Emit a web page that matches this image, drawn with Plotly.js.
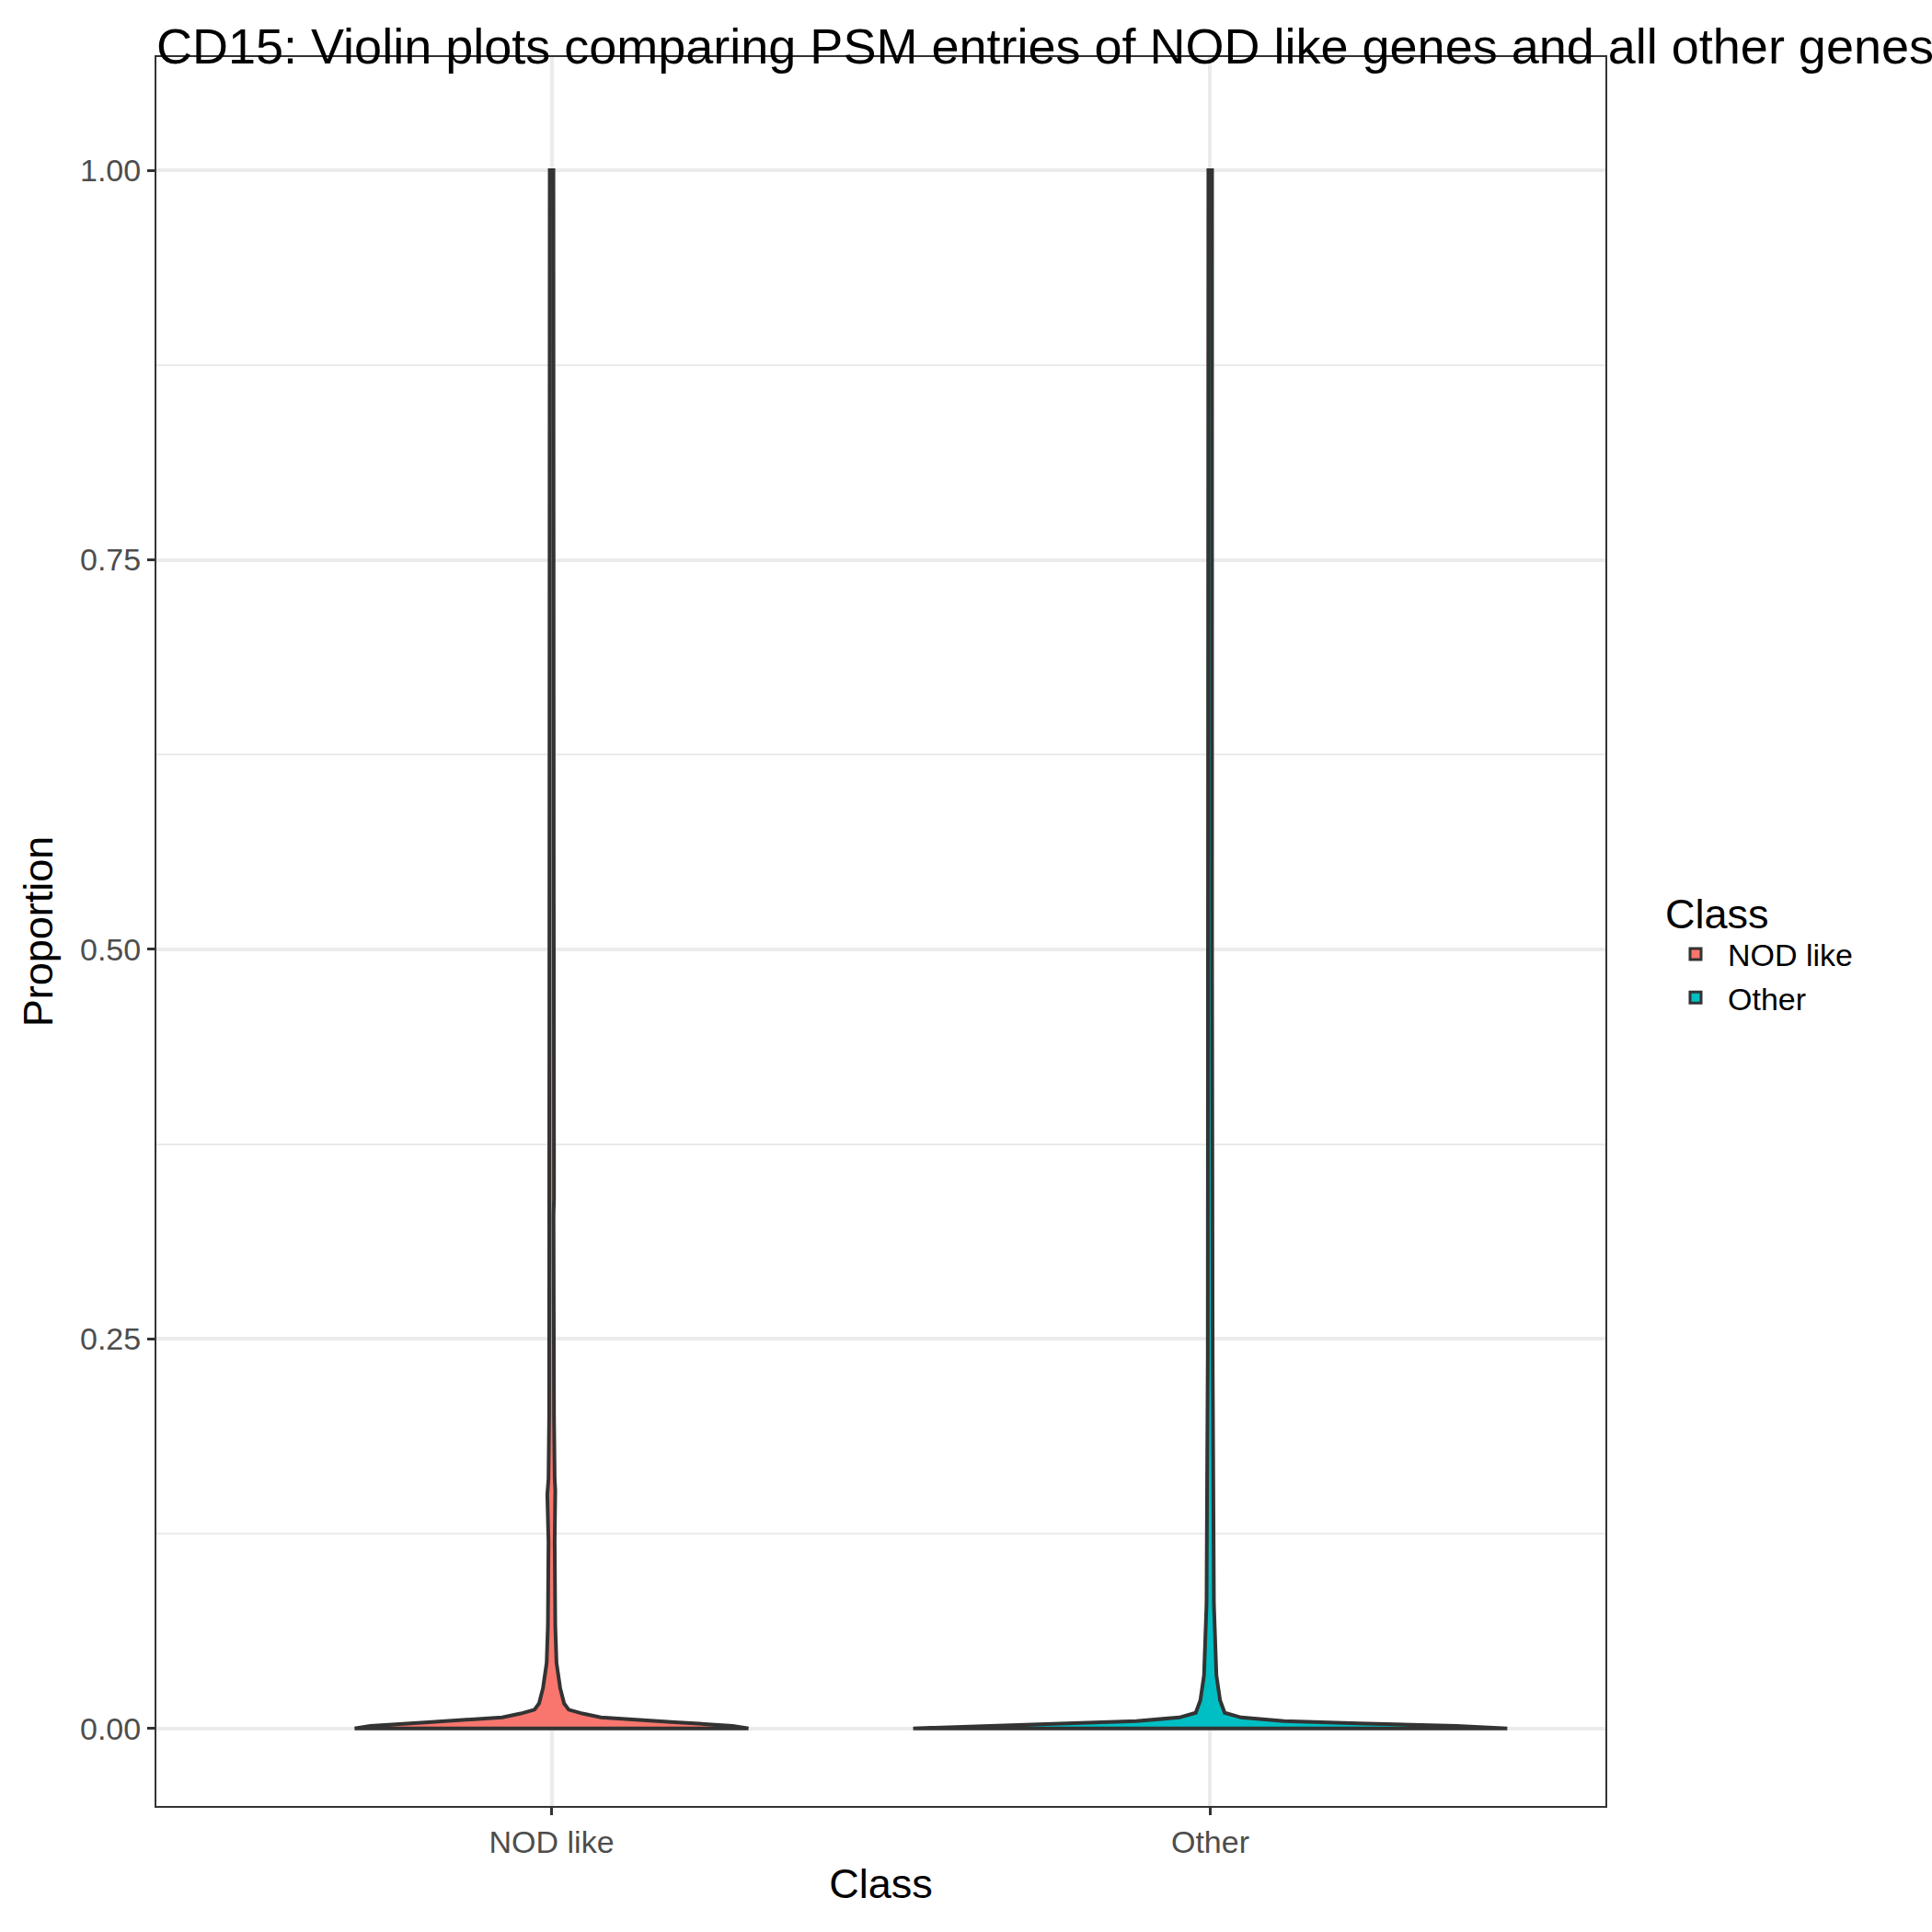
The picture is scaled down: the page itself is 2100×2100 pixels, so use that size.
<!DOCTYPE html>
<html><head><meta charset="utf-8">
<script src="https://cdn.plot.ly/plotly-3.0.1.min.js"></script>
<style>body{margin:0;background:#fff}</style></head>
<body><div id="plot" style="width:2100px;height:2100px"></div>
<script>
// categories and their positions on the discrete axis
const categories = ["NOD like", "Other"];
const fills = ["#F8766D", "#00BFC4"];

// density profile: y value and half-width (axis units)
const nodY = [0, 0.0016, 0.004, 0.007, 0.0095, 0.012, 0.016, 0.026, 0.042, 0.066, 0.12, 0.15, 0.153, 0.16, 0.2, 0.33, 0.34, 0.55, 0.67, 0.9, 1.0];
const nodW = [0.299, 0.275, 0.187, 0.075, 0.047, 0.026, 0.019, 0.013, 0.0075, 0.0056, 0.0047, 0.0065, 0.0056, 0.0047, 0.0037, 0.003, 0.0037, 0.0033, 0.003, 0.0028, 0.0028];
const otherY = [0, 0.0016, 0.0032, 0.0047, 0.007, 0.01, 0.018, 0.034, 0.08, 0.16, 0.24, 0.5, 1.0];
const otherW = [0.451, 0.374, 0.225, 0.112, 0.047, 0.022, 0.015, 0.0094, 0.0056, 0.0047, 0.0037, 0.0028, 0.0028];

function violin(center, ys, ws, name, color) {
  const x = [], y = [];
  for (let i = 0; i < ys.length; i++) { x.push(center + ws[i]); y.push(ys[i]); }
  for (let i = ys.length - 1; i >= 0; i--) { x.push(center - ws[i]); y.push(ys[i]); }
  x.push(x[0]); y.push(y[0]);
  return { x, y, name, type: "scatter", mode: "lines", fill: "toself", showlegend: false,
    fillcolor: color, line: { color: "#333333", width: 4 }, hoverinfo: "skip" };
}

// legend keys drawn as filled boxes
function key(name, color) {
  return { type: "bar", x: [null], y: [null], name,
    marker: { color, line: { color: "#333333", width: 3 } } };
}

const traces = [
  violin(1, nodY, nodW, categories[0], fills[0]),
  violin(2, otherY, otherW, categories[1], fills[1]),
  key(categories[0], fills[0]),
  key(categories[1], fills[1]),
];

const font = { family: "Liberation Sans, Arial, sans-serif", color: "#000" };
Plotly.newPlot("plot", traces, {
  width: 2100, height: 2100,
  margin: { l: 170, r: 355, t: 62, b: 137 },
  paper_bgcolor: "#fff", plot_bgcolor: "#fff",
  font: font,
  title: { text: "CD15: Violin plots comparing PSM entries of NOD like genes and all other genes",
    x: 0, xref: "paper", xanchor: "left", y: 0.976, yanchor: "middle",
    font: { size: 54, color: "#000" } },
  xaxis: {
    range: [0.4, 2.6], tickvals: [1, 2], ticktext: categories,
    showgrid: true, gridcolor: "#EBEBEB", gridwidth: 4, zeroline: false,
    showline: true, mirror: true, linecolor: "#333333", linewidth: 2,
    ticks: "outside", ticklen: 8, tickcolor: "#333333", tickwidth: 3,
    tickfont: { size: 34, color: "#4D4D4D" },
    title: { text: "Class", font: { size: 45 }, standoff: 12 },
  },
  yaxis: {
    range: [-0.0498, 1.0727], tickvals: [0, 0.25, 0.5, 0.75, 1],
    ticktext: ["0.00", "0.25", "0.50", "0.75", "1.00"],
    showgrid: true, gridcolor: "#EBEBEB", gridwidth: 4, zeroline: false,
    minor: { tickvals: [0.125, 0.375, 0.625, 0.875], showgrid: true, gridcolor: "#EBEBEB", gridwidth: 2 },
    showline: true, mirror: true, linecolor: "#333333", linewidth: 2,
    ticks: "outside", ticklen: 8, tickcolor: "#333333", tickwidth: 3,
    tickfont: { size: 34, color: "#4D4D4D" },
    title: { text: "Proportion", font: { size: 45 }, standoff: 15 },
  },
  showlegend: true,
  legend: { x: 1.04, xanchor: "left", y: 0.49, yanchor: "middle",
    title: { text: "Class", font: { size: 45 } },
    font: { size: 34 }, itemwidth: 60, tracegroupgap: 14 },
}, { displayModeBar: false });
</script></body></html>
